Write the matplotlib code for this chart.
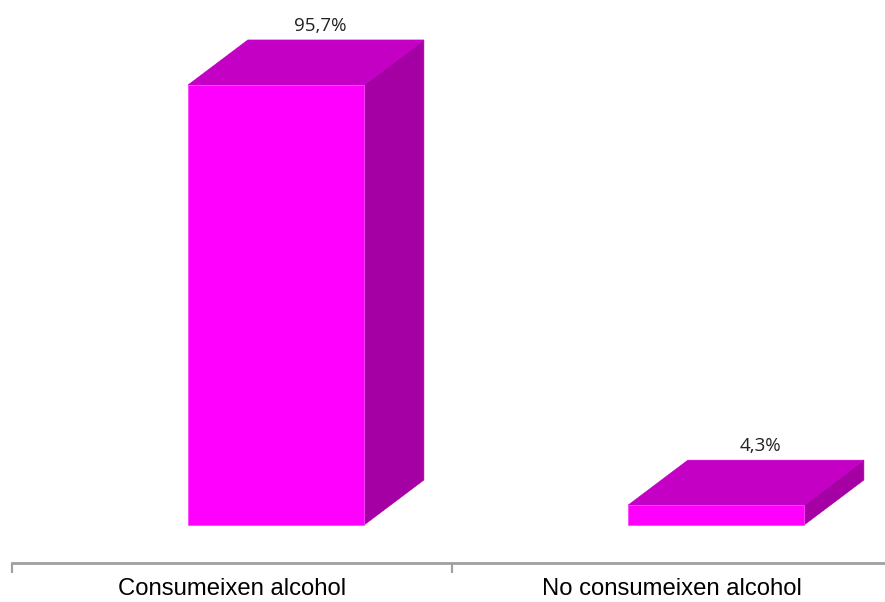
import matplotlib.pyplot as plt
from matplotlib.patches import Polygon

categories = ["Consumeixen alcohol", "No consumeixen alcohol"]
values = [95.7, 4.3]
labels = ["95,7%", "4,3%"]

front_col = "#FF00FF"
top_col = "#C400C4"
side_col = "#A400A4"

# bar geometry in data units (x: one unit per category, y: percent)
bar_w = 0.4
bar_off = 0.1      # front face shifted right of category centre
dx = 0.136         # depth offset to the right
dy = 9.8           # depth offset upwards

fig = plt.figure(figsize=(8.85, 6.02), dpi=100)
ax = fig.add_axes([12 / 885, 39 / 602, 1 - 12 / 885, 563 / 602])

for i, v in enumerate(values):
    x0 = i + bar_off - bar_w / 2
    x1 = x0 + bar_w
    front = Polygon([(x0, 0), (x1, 0), (x1, v), (x0, v)], closed=True,
                    facecolor=front_col, edgecolor="#FF44FF", lw=0.6, zorder=3)
    top = Polygon([(x0, v), (x1, v), (x1 + dx, v + dy), (x0 + dx, v + dy)],
                  closed=True, facecolor=top_col, edgecolor=top_col, lw=0.5, zorder=2)
    side = Polygon([(x1, 0), (x1 + dx, dy), (x1 + dx, v + dy), (x1, v)],
                   closed=True, facecolor=side_col, edgecolor=side_col, lw=0.5, zorder=2)
    for p in (side, top, front):
        ax.add_patch(p)
    ax.text(i + bar_off + 0.1, v + dy + 2.0, labels[i], ha="center", va="baseline",
            fontsize=13.5, family="Open Sans", color="#222222")

for s in ("top", "right", "left"):
    ax.spines[s].set_visible(False)
ax.spines["bottom"].set_color("#A0A0A0")
ax.spines["bottom"].set_linewidth(2)
ax.set_yticks([])

ax.set_xticks(range(len(categories)))
ax.set_xticklabels(categories, fontsize=17.2, family="Liberation Sans")
ax.tick_params(axis="x", which="major", length=0, pad=11)
ax.set_xticks([-0.5, 0.5], minor=True)
ax.tick_params(axis="x", which="minor", length=7, width=1.5, color="#A0A0A0", direction="out")

# limits last, so the tick calls cannot widen them
ax.set_xlim(-0.5, -0.5 + 873 / 440)
ax.set_ylim(-8.26, 114.2)

fig.savefig("out.png", dpi=100)
